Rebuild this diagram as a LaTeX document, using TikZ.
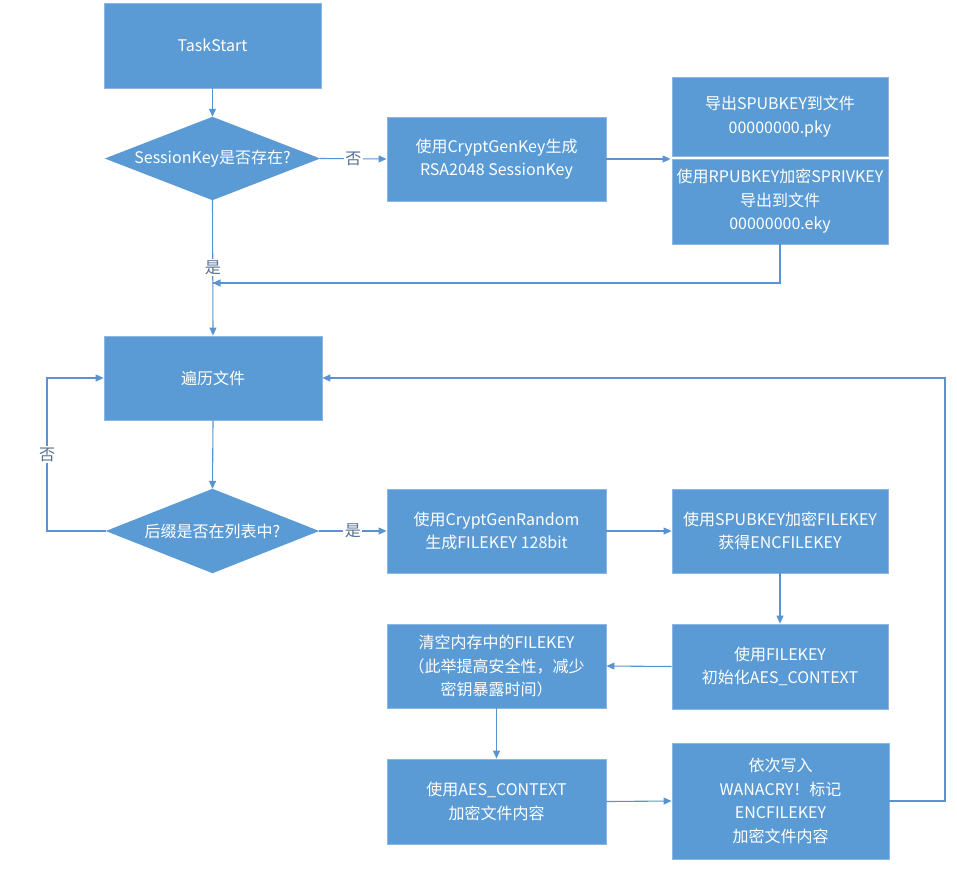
\documentclass[tikz,border=0pt]{standalone}
\usepackage{fontspec}
\setmainfont{Noto Sans CJK SC}
\usetikzlibrary{arrows.meta,backgrounds}
\definecolor{boxfill}{HTML}{5B9BD5}
\definecolor{boxline}{HTML}{8DB7E2}
\definecolor{arrowc}{HTML}{5B93CF}
\definecolor{labc}{HTML}{56708F}
\tikzset{
  boxnode/.style={rectangle, fill=boxfill, draw=boxline, line width=0.8pt, text=white,
    align=center, inner sep=2pt, font=\fontsize{16}{23.5}\selectfont},
  dianode/.style={rectangle, text=white, align=center, inner sep=0pt,
    font=\fontsize{16}{23.5}\selectfont},
  conn/.style={draw=arrowc, line width=1.1pt, -{Triangle[length=8pt,width=7pt]}},
  plainconn/.style={draw=arrowc, line width=1.1pt},
  lab/.style={fill=white, text=labc, inner sep=1.5pt, font=\fontsize{16}{18}\selectfont}
}
\begin{document}
\begin{tikzpicture}[x=1pt,y=-1pt]
\useasboundingbox (0,0) rectangle (957,868);
% boxes
\node[boxnode, minimum width=217, minimum height=85] (b1) at (212.5,45.5) {TaskStart};
\node[dianode, minimum width=215, minimum height=83] (d1) at (212.5,158.5) {SessionKey是否存在?};
\node[boxnode, minimum width=219, minimum height=84] (b2) at (496.5,159) {使用CryptGenKey生成\\RSA2048 SessionKey};
\node[boxnode, minimum width=216, minimum height=79] (b3) at (780,116.5) {导出SPUBKEY到文件\\00000000.pky};
\node[boxnode, minimum width=216, minimum height=85] (b4) at (780,201.5) {使用RPUBKEY加密SPRIVKEY\\导出到文件\\00000000.eky};
\node[boxnode, minimum width=218, minimum height=84] (loop) at (213,378) {遍历文件};
\node[dianode, minimum width=213, minimum height=84] (d2) at (212.5,531) {后缀是否在列表中?};
\node[boxnode, minimum width=219, minimum height=84] (b5) at (496.5,531) {使用CryptGenRandom\\生成FILEKEY 128bit};
\node[boxnode, minimum width=216, minimum height=84] (b6) at (780,531) {使用SPUBKEY加密FILEKEY\\获得ENCFILEKEY};
\node[boxnode, minimum width=216, minimum height=85] (b7) at (780,666.5) {使用FILEKEY\\初始化AES\_CONTEXT};
\node[boxnode, minimum width=219, minimum height=84] (b8) at (496.5,666) {清空内存中的FILEKEY\\（此举提高安全性，减少\\密钥暴露时间）};
\node[boxnode, minimum width=219, minimum height=85] (b9) at (496.5,801.5) {使用AES\_CONTEXT\\加密文件内容};
\node[boxnode, minimum width=217, minimum height=116] (b10) at (780.5,801) {依次写入\\WANACRY！标记\\ENCFILEKEY\\加密文件内容};
% diamonds
\begin{pgfonlayer}{background}
\fill[boxfill] (d1.north) -- (d1.east) -- (d1.south) -- (d1.west) -- cycle;
\fill[boxfill] (d2.north) -- (d2.east) -- (d2.south) -- (d2.west) -- cycle;
\end{pgfonlayer}
\coordinate (m) at (212.5,283);
\coordinate (lx) at (47,531);
\coordinate (rx) at (945,801);
% connectors
\draw[conn] (b1.south) -- (d1.north);
\draw[conn] (d1.east) -- node[lab]{否} (b2.west);
\draw[conn] (b2.east) -- ([xshift=-1pt]b2.east -| b4.west);
\draw[plainconn] (b4.south) |- (m);
\draw[conn] ([xshift=16pt]m) -- (m);
\draw[conn] (d1.south) -- node[lab]{是} (loop.north);
\draw[conn] (loop.south) -- (d2.north);
\draw[conn] (d2.west) -- (lx) -- node[lab]{否} (lx |- loop.west) -- (loop.west);
\draw[conn] (d2.east) -- node[lab]{是} (b5.west);
\draw[conn] (b5.east) -- (b6.west);
\draw[conn] (b6.south) -- (b7.north);
\draw[conn] (b7.west) -- (b8.east);
\draw[conn] (b8.south) -- (b9.north);
\draw[conn] (b9.east) -- (b10.west);
\draw[conn] (b10.east) -- (rx) -- (rx |- loop.east) -- (loop.east);
\end{tikzpicture}
\end{document}
